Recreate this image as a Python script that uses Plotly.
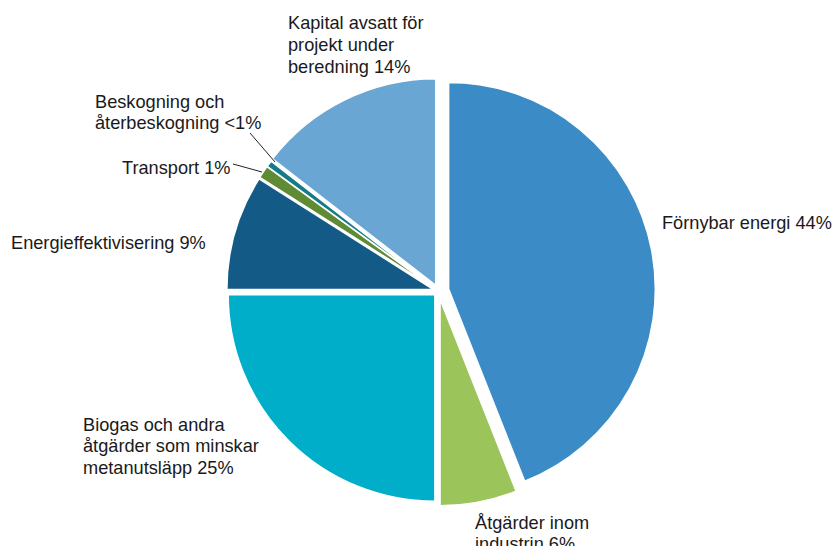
import plotly.graph_objects as go

W, H = 837, 546

categories = [
    "Förnybar energi",
    "Åtgärder inom industrin",
    "Biogas och andra åtgärder som minskar metanutsläpp",
    "Energieffektivisering",
    "Transport",
    "Beskogning och återbeskogning",
    "Kapital avsatt för projekt under beredning",
]
values = [44, 6, 25, 9, 1, 0.5, 14.5]
colors = ["#3b8cc6", "#9bc45a", "#00aec9", "#145a86", "#5e8b34", "#137b8a", "#6aa6d3"]
pulls = [0.05, 0.04, 0.025, 0.025, 0.025, 0.025, 0.03]

label_lines = [
    ["Förnybar energi 44%"],
    ["Åtgärder inom", "industrin 6%"],
    ["Biogas och andra", "åtgärder som minskar", "metanutsläpp 25%"],
    ["Energieffektivisering 9%"],
    ["Transport 1%"],
    ["Beskogning och", "återbeskogning <1%"],
    ["Kapital avsatt för", "projekt under", "beredning 14%"],
]
# left edge and cap-top of first line, in pixels
label_pos = [(662, 212), (475, 512), (83, 414), (11, 233), (122, 157), (95, 91), (288, 13)]
LINE_H = 21.5
FS = 18.2

fig = go.Figure(go.Pie(
    labels=categories,
    values=values,
    sort=False,
    direction="clockwise",
    rotation=0,
    pull=pulls,
    marker=dict(colors=colors, line=dict(color="white", width=1.5)),
    textinfo="none",
    hoverinfo="label+percent",
    showlegend=False,
    domain=dict(x=[221.5 / W, 655.5 / W], y=[1 - 508 / H, 1 - 74 / H]),
))

annotations = []
for lines, (px, py) in zip(label_lines, label_pos):
    for i, line in enumerate(lines):
        yc = py + 10.5 + i * LINE_H
        annotations.append(dict(
            x=(px - 2) / W, y=1 - yc / H, xref="paper", yref="paper",
            xanchor="left", yanchor="middle", align="left",
            text=line, showarrow=False,
            font=dict(family="Liberation Sans, Arial, sans-serif", size=FS, color="#1a1a1a"),
        ))

shapes = [
    dict(type="line", xref="paper", yref="paper",
         x0=233 / W, y0=1 - 164 / H, x1=262 / W, y1=1 - 172 / H,
         line=dict(color="#222", width=1)),
    dict(type="line", xref="paper", yref="paper",
         x0=250 / W, y0=1 - 133 / H, x1=275 / W, y1=1 - 162 / H,
         line=dict(color="#222", width=1)),
]

fig.update_layout(
    width=W, height=H,
    margin=dict(l=0, r=0, t=0, b=0),
    paper_bgcolor="white", plot_bgcolor="white",
    annotations=annotations, shapes=shapes,
)

fig.write_html(
    "out.html",
    config={"displayModeBar": False},
    post_script="document.body.style.margin='0';document.body.style.overflow='hidden';",
)
